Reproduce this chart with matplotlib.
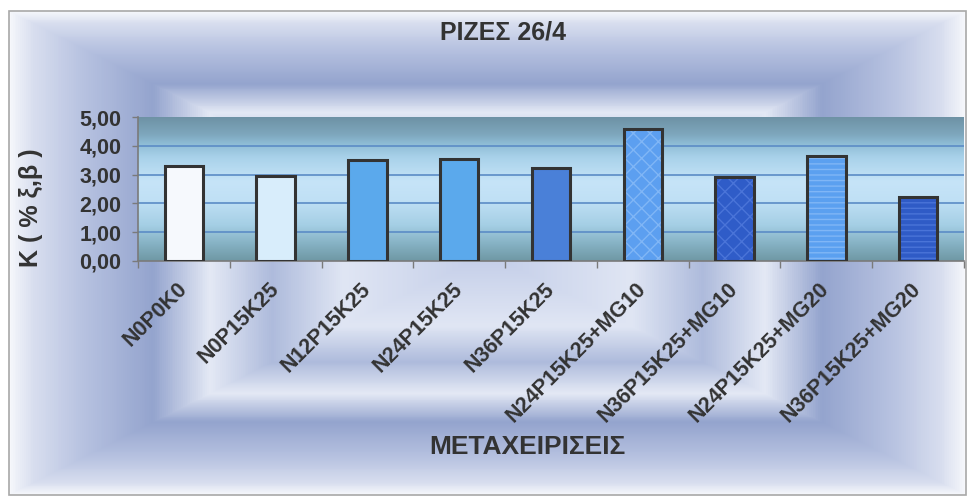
import numpy as np
import matplotlib
matplotlib.use("Agg")
import matplotlib.pyplot as plt
from matplotlib.colors import LinearSegmentedColormap
from matplotlib.ticker import FuncFormatter, MultipleLocator
from matplotlib.patches import Rectangle

# data
treatments = ["N0P0K0", "N0P15K25", "N12P15K25", "N24P15K25", "N36P15K25",
              "N24P15K25+MG10", "N36P15K25+MG10", "N24P15K25+MG20", "N36P15K25+MG20"]
k_values = [3.30, 2.96, 3.52, 3.53, 3.24, 4.57, 2.91, 3.66, 2.22]

bar_colors = ["#f6f9fd", "#d8edfb", "#5ba9ec", "#5ba9ec", "#4a80d8",
              "#5c9ff0", "#2f5cc8", "#5ba0f0", "#2f5bc6"]
hatch_colors = [None, None, None, None, None, "#80b6f6", "#4a74d8", "#80b6f6", "#4a74d8"]
hatches = [None, None, None, None, None, "xx", "xx", "---", "---"]

title = "ΡΙΖΕΣ 26/4"
xlabel = "ΜΕΤΑΧΕΙΡΙΣΕΙΣ"
ylabel = "K ( % ξ,β )"

W, H = 967, 498
fig = plt.figure(figsize=(W / 100, H / 100), dpi=100)
plt.rcParams["font.family"] = ["Liberation Sans", "DejaVu Sans"]
text_color = "#333333"

# --- framed "from centre" background, like the Excel fill effect ---
x0, x1, y0, y1 = 9, 966, 11, 495
cx, cy = (x0 + x1) / 2, (y0 + y1) / 2
xx, yy = np.meshgrid(np.arange(W) + 0.5, np.arange(H) + 0.5)
t = np.maximum(np.abs(xx - cx) / ((x1 - x0) / 2), np.abs(yy - cy) / ((y1 - y0) / 2))
t = np.clip(t, 0, 1)
frame_cmap = LinearSegmentedColormap.from_list("frame", [
    (0.00, "#c3cde8"), (0.30, "#e0e6f4"), (0.45, "#aebbdc"), (0.58, "#e4e9f5"),
    (0.70, "#94a4ce"), (0.85, "#b8c3e1"), (0.95, "#d8deef"), (1.00, "#f6f7fb")])
bg = frame_cmap(t)
outside = (xx < x0) | (xx > x1) | (yy < y0) | (yy > y1)
bg[outside] = (1, 1, 1, 1)
bg_ax = fig.add_axes([0, 0, 1, 1], zorder=0)
bg_ax.imshow(bg, aspect="auto", interpolation="bilinear")
bg_ax.set_axis_off()
fig.patches.append(Rectangle((x0 / W, 1 - y1 / H), (x1 - x0) / W, (y1 - y0) / H,
                             transform=fig.transFigure, fill=False,
                             edgecolor="#a8a8a8", linewidth=1.2, zorder=1))

# --- plot area ---
left, right, top, bottom = 138, 964, 117, 261
ax = fig.add_axes([left / W, 1 - bottom / H, (right - left) / W, (bottom - top) / H], zorder=2)
n = len(treatments)
ax.set_xlim(-0.5, n - 0.5)
ax.set_ylim(0, 5)

plot_cmap = LinearSegmentedColormap.from_list("plotbg", [
    (0.00, "#6f98a4"), (0.12, "#86b2c4"), (0.25, "#a5cfe5"), (0.42, "#c0e0f5"),
    (0.55, "#c6e4f8"), (0.72, "#a9d2ea"), (0.82, "#8dbbd4"), (0.88, "#7ea7bd"),
    (1.00, "#6e92a5")])
grad = np.linspace(0, 1, 256).reshape(-1, 1)
ax.imshow(grad, cmap=plot_cmap, origin="lower", aspect="auto",
          extent=[-0.5, n - 0.5, 0, 5], zorder=0)

for yv in [1, 2, 3, 4]:
    ax.axhline(yv, color="#5b8cc6", linewidth=1.2, zorder=1)

x = np.arange(n)
width = 0.42
for i in range(n):
    if hatches[i]:
        ax.bar(x[i], k_values[i], width, color=bar_colors[i], hatch=hatches[i],
               edgecolor=hatch_colors[i], linewidth=0, zorder=2)
    else:
        ax.bar(x[i], k_values[i], width, color=bar_colors[i], linewidth=0, zorder=2)
ax.bar(x, k_values, width, fill=False, edgecolor="#333333", linewidth=2.2, zorder=3)

for s in ["top", "right"]:
    ax.spines[s].set_visible(False)
for s in ["left", "bottom"]:
    ax.spines[s].set_color("#7a7a7a")
    ax.spines[s].set_linewidth(1.2)

ax.yaxis.set_major_locator(MultipleLocator(1))
ax.yaxis.set_major_formatter(FuncFormatter(lambda v, p: f"{v:.2f}".replace(".", ",")))
ax.tick_params(axis="y", length=4, width=1, color="#7a7a7a", pad=8,
               labelsize=15.5, labelcolor=text_color)
for lab in ax.get_yticklabels():
    lab.set_fontweight("bold")

ax.set_xticks(x)
ax.set_xticks(np.arange(n + 1) - 0.5, minor=True)
ax.tick_params(axis="x", which="major", length=0, pad=18)
ax.tick_params(axis="x", which="minor", length=5, width=1, color="#7a7a7a")
ax.set_xticklabels(treatments, rotation=45, ha="right", va="center",
                   rotation_mode="anchor", fontsize=15.5, fontweight="bold",
                   color=text_color)

fig.text(503 / W, 1 - 32 / H, title, ha="center", va="center",
         fontsize=18, fontweight="bold", color=text_color)
fig.text(527 / W, 1 - 447 / H, xlabel, ha="center", va="center",
         fontsize=19, fontweight="bold", color=text_color)
fig.text(31 / W, 1 - 208 / H, ylabel, ha="center", va="center", rotation=90,
         fontsize=18, fontweight="bold", color=text_color)

fig.savefig("out.png", dpi=100)
